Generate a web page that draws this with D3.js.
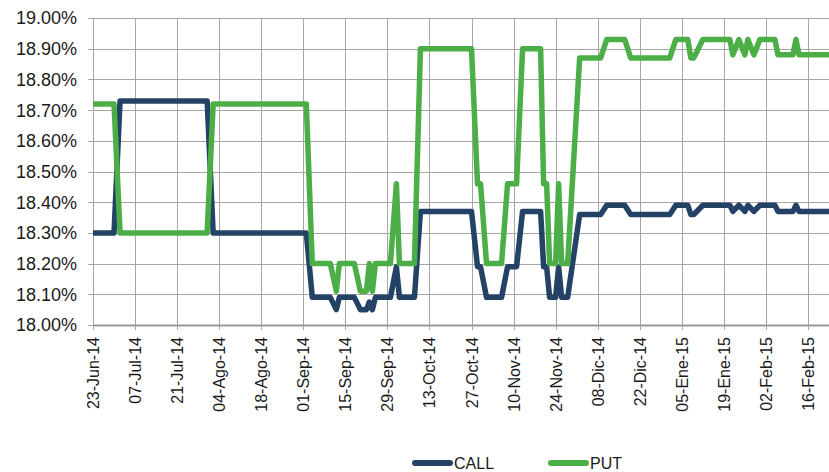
<!DOCTYPE html>
<html>
<head>
  <meta charset="utf-8">
  <title>CALL / PUT</title>
  <style>
  body { margin: 0; background: #fff; }
  text { font-family: "Liberation Sans", Arial, sans-serif; fill: #1a1a1a; }
  .grid line { stroke: #a6a6a6; stroke-width: 1; }
  .line { fill: none; stroke-width: 5.5; stroke-linejoin: round; }
  </style>
</head>
<body>
<script src="https://cdnjs.cloudflare.com/ajax/libs/d3/7.8.5/d3.min.js"></script>
<script>
// series (values in %)
var callDates = ["2014-06-23","2014-06-30","2014-07-02","2014-07-31","2014-08-02","2014-09-02","2014-09-04",
  "2014-09-10","2014-09-12","2014-09-13","2014-09-18","2014-09-20","2014-09-22","2014-09-23","2014-09-24",
  "2014-09-25","2014-09-30","2014-10-02","2014-10-03","2014-10-08","2014-10-10","2014-10-27","2014-10-29",
  "2014-10-30","2014-11-01","2014-11-06","2014-11-08","2014-11-11","2014-11-13","2014-11-19","2014-11-20",
  "2014-11-21","2014-11-22","2014-11-24","2014-11-25","2014-11-26","2014-11-28","2014-12-02","2014-12-09",
  "2014-12-11","2014-12-17","2014-12-19","2015-01-01","2015-01-03","2015-01-07","2015-01-08","2015-01-09",
  "2015-01-12","2015-01-21","2015-01-22","2015-01-24","2015-01-26","2015-01-27","2015-01-29","2015-01-31",
  "2015-02-05","2015-02-06","2015-02-11","2015-02-12","2015-02-13","2015-02-24"];
var callValues = [18.30,18.30,18.73,18.73,18.30,18.30,18.09,
  18.09,18.05,18.09,18.09,18.05,18.05,18.075,18.05,
  18.09,18.09,18.19,18.09,18.09,18.37,18.37,18.19,
  18.19,18.09,18.09,18.19,18.19,18.37,18.37,18.19,
  18.19,18.09,18.09,18.19,18.09,18.09,18.36,18.36,
  18.39,18.39,18.36,18.36,18.39,18.39,18.36,18.36,
  18.39,18.39,18.37,18.39,18.37,18.39,18.37,18.39,
  18.39,18.37,18.37,18.39,18.37,18.37];

var putDates = callDates;
var putValues = [18.72,18.72,18.30,18.30,18.72,18.72,18.20,
  18.20,18.11,18.20,18.20,18.11,18.11,18.20,18.11,
  18.20,18.20,18.46,18.20,18.20,18.90,18.90,18.46,
  18.46,18.20,18.20,18.46,18.46,18.90,18.90,18.46,
  18.46,18.20,18.20,18.46,18.20,18.20,18.87,18.87,
  18.93,18.93,18.87,18.87,18.93,18.93,18.87,18.87,
  18.93,18.93,18.88,18.93,18.88,18.93,18.88,18.93,
  18.93,18.88,18.88,18.93,18.88,18.88];

var tickDates = ["2014-06-23","2014-07-07","2014-07-21","2014-08-04","2014-08-18","2014-09-01",
  "2014-09-15","2014-09-29","2014-10-13","2014-10-27","2014-11-10","2014-11-24","2014-12-08",
  "2014-12-22","2015-01-05","2015-01-19","2015-02-02","2015-02-16"];
var monthsEs = ["Ene","Feb","Mar","Abr","May","Jun","Jul","Ago","Sep","Oct","Nov","Dic"];
var yTicks = [18.0,18.1,18.2,18.3,18.4,18.5,18.6,18.7,18.8,18.9,19.0];

var parse = d3.timeParse("%Y-%m-%d");
var margin = {top: 18, left: 93},
    width = 736, height = 307;

var x = d3.scaleTime()
    .domain([parse("2014-06-23"), parse("2015-02-23")])
    .range([0, width]);
var y = d3.scaleLinear().domain([18, 19]).range([height, 0]);

var svg = d3.select("body").append("svg")
    .attr("width", 829).attr("height", 472);
var g = svg.append("g")
    .attr("transform", "translate(" + margin.left + "," + margin.top + ")");

// horizontal grid + y labels
var gy = g.append("g").attr("class", "grid");
gy.selectAll("line").data(yTicks).enter().append("line")
    .attr("x1", -5).attr("x2", width + 10)
    .attr("y1", function(d) { return Math.round(y(d)) + 0.5; })
    .attr("y2", function(d) { return Math.round(y(d)) + 0.5; });
g.selectAll(".ylab").data(yTicks).enter().append("text")
    .attr("class", "ylab")
    .attr("x", -16).attr("y", function(d) { return y(d); })
    .attr("dy", "0.36em")
    .attr("text-anchor", "end")
    .style("font-size", "18px")
    .text(function(d) { return d.toFixed(2) + "%"; });

// vertical grid at each tick
var ticks = tickDates.map(parse);
var gx = g.append("g").attr("class", "grid");
gx.selectAll("line").data(ticks).enter().append("line")
    .attr("x1", function(d) { return Math.round(x(d)) + 0.5; })
    .attr("x2", function(d) { return Math.round(x(d)) + 0.5; })
    .attr("y1", 0).attr("y2", height + 5);

// x axis line
g.append("line")
    .attr("x1", 0).attr("x2", width + 10)
    .attr("y1", height + 0.5).attr("y2", height + 0.5)
    .attr("stroke", "#999").attr("stroke-width", 2);

function fmt(d) {
  return d3.timeFormat("%d")(d) + "-" + monthsEs[d.getMonth()] + "-" + d3.timeFormat("%y")(d);
}
g.selectAll(".xlab").data(ticks).enter().append("text")
    .attr("class", "xlab")
    .attr("transform", function(d) {
      return "translate(" + (x(d) + 6) + "," + (height + 12) + ") rotate(-90)";
    })
    .attr("text-anchor", "end")
    .style("font-size", "16px")
    .text(fmt);

// lines
var line = d3.line()
    .x(function(d) { return x(d.date); })
    .y(function(d) { return y(d.value); });

var clip = svg.append("clipPath").attr("id", "clip")
  .append("rect").attr("x", 0).attr("y", -10).attr("width", width).attr("height", height + 20);

var callData = callDates.map(function(d, i) { return {date: parse(d), value: callValues[i]}; });
var putData = putDates.map(function(d, i) { return {date: parse(d), value: putValues[i]}; });

g.append("path").datum(callData)
    .attr("class", "line").attr("clip-path", "url(#clip)")
    .attr("stroke", "#244266")
    .attr("d", line);
g.append("path").datum(putData)
    .attr("class", "line").attr("clip-path", "url(#clip)")
    .attr("stroke", "#4cae47")
    .attr("d", line);

// legend
var legend = [{name: "CALL", color: "#244266", x: 412}, {name: "PUT", color: "#4cae47", x: 548}];
var lg = svg.selectAll(".legend").data(legend).enter().append("g")
    .attr("transform", function(d) { return "translate(" + d.x + ",463)"; });
lg.append("line")
    .attr("x1", 3).attr("x2", 38).attr("y1", 0).attr("y2", 0)
    .attr("stroke", function(d) { return d.color; })
    .attr("stroke-width", 6).attr("stroke-linecap", "round");
lg.append("text")
    .attr("x", 42).attr("dy", "0.36em")
    .style("font-size", "16px")
    .text(function(d) { return d.name; });
</script>
</body>
</html>
